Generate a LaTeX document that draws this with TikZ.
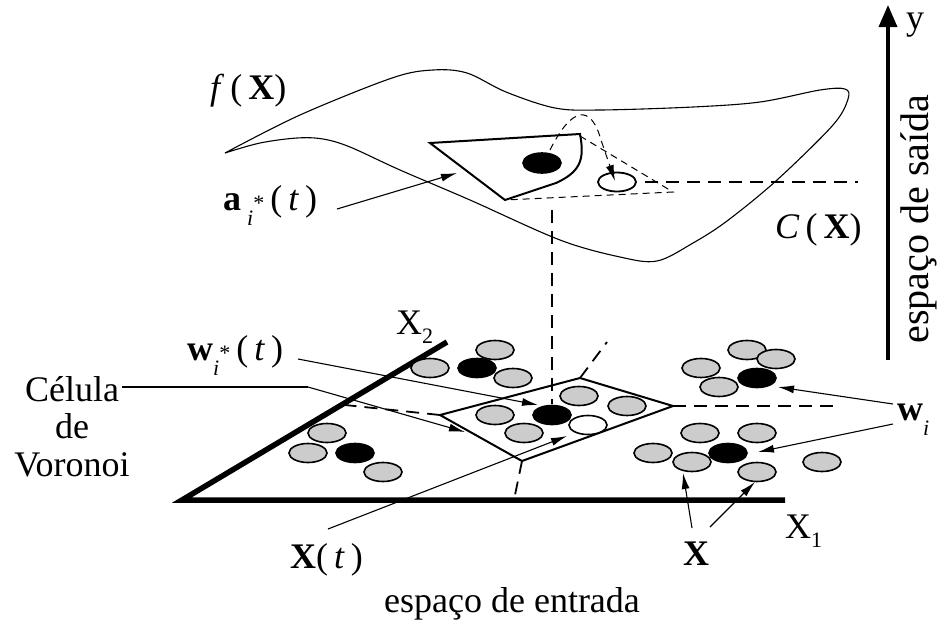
\documentclass[tikz,border=0pt]{standalone}
\usepackage{fontspec}
\setmainfont{Liberation Serif}
\usetikzlibrary{arrows.meta,shapes.geometric}
\newcommand\smtxt[1]{{\fontsize{22}{22}\selectfont #1}}
\begin{document}
\begin{tikzpicture}[x=1pt,y=-1pt,
  dotbase/.style={ellipse, draw, line width=1.6pt, minimum width=38pt, minimum height=19pt, inner sep=0pt},
  gdot/.style={dotbase, fill=black!20},
  bdot/.style={dotbase, fill=black},
  wdot/.style={dotbase, fill=white},
  lbl/.style={font=\fontsize{36}{38}\selectfont, inner sep=0pt},
  ar/.style={line width=1.1pt, -{Latex[length=16pt,width=8pt]}},
  sdash/.style={line width=1pt, dash pattern=on 7pt off 5pt},
  pdash/.style={line width=1.8pt, dash pattern=on 13pt off 8pt},
  axisline/.style={line width=5.5pt, line join=miter},
  cellline/.style={line width=2pt, line join=miter}]
\useasboundingbox (0,0) rectangle (946,625);

% ---- output surface ----
\draw[line width=1.1pt] plot[smooth, tension=0.55] coordinates {
 (225,153) (300,115) (392,78) (433,70) (467,73) (506,92) (555,108) (600,110)
 (693,107) (760,102) (820,90) (845,89) (848,99) (833,125) (777,180) (727,221)
 (693,243) (657,261) (620,257) (560,240) (470,200) (400,170) (350,147)
 (323,139) (297,138) (260,143) (225,153)};

% image of the cell on the surface
\draw[line width=2pt, line join=miter] (430,143) -- (580,134)
  .. controls (585,160) and (580,172) .. (556,183) -- (505,200) -- cycle;

\coordinate (pA) at (550,150);
\coordinate (pB) at (615,181);
\coordinate (tri) at (673,192);
\coordinate (polyTR) at (580,136);
\coordinate (polyB) at (505,200);
\draw[sdash, -{Latex[length=16pt,width=8pt]}] (pA) .. controls (572,106) and (591,104) .. (601,140) -- (pB);
\draw[sdash] (polyTR) -- (tri) -- (polyB);

\node[bdot, minimum width=38pt, minimum height=20pt] (aF) at (542,163) {};
\node[wdot, fill=none, line width=1.8pt] (aO) at (617,182) {};

\coordinate (hL) at (645,182);
\coordinate (hR) at (858,182);
\draw[pdash] (hL) -- (hR);
\coordinate (vT) at (552,210);
\coordinate (vB) at (552,404);
\draw[pdash] (vT) -- (vB);

% ---- input plane ----
\coordinate (x2end) at (447,342);
\coordinate (orig) at (182,500);
\coordinate (x1end) at (785,500);
\draw[axisline] (x2end) -- (orig) -- (x1end);

\coordinate (cL) at (440,415);
\coordinate (cT) at (580,378);
\coordinate (cR) at (673,406);
\coordinate (cB) at (522,461);
\coordinate (dL) at (345,405);
\coordinate (dT) at (607,342);
\coordinate (dR) at (840,406);
\coordinate (dB) at (515,495);
\draw[pdash] (cL) -- (dL);
\draw[pdash] (cT) -- (dT);
\draw[pdash] (cR) -- (dR);
\draw[pdash] (cB) -- (dB);
\draw[cellline] (cL) -- (cT) -- (cR) -- (cB) -- cycle;

% groups of prototypes
\node[gdot] (g1) at (495,350) {};
\node[gdot] (g2) at (430,368) {};
\node[bdot] (b1) at (477,368) {};
\node[gdot] (g3) at (513,378) {};

\node[gdot] (g4) at (327,433) {};
\node[gdot] (g5) at (308,453) {};
\node[bdot] (b2) at (355,453) {};
\node[gdot] (g6) at (383,472) {};

\node[gdot] (g7) at (495,415) {};
\node[bdot] (bw) at (552,415) {};
\node[gdot] (g8) at (579,396) {};
\node[gdot] (g9) at (627,406) {};
\node[gdot] (g10) at (524,433) {};
\node[wdot] (xt) at (588,425) {};

\node[gdot] (g11) at (747,350) {};
\node[gdot] (g12) at (776,359) {};
\node[gdot] (g13) at (701,368) {};
\node[bdot] (b3) at (757,378) {};
\node[gdot] (g14) at (719,387) {};

\node[gdot] (g15) at (700,433) {};
\node[gdot] (g16) at (757,433) {};
\node[gdot] (g17) at (653,453) {};
\node[bdot] (b4) at (728,453) {};
\node[gdot] (g18) at (692,462) {};
\node[gdot] (g19) at (757,472) {};
\node[gdot] (g20) at (822,462) {};

% ---- output axis ----
\coordinate (yB) at (888,360);
\coordinate (yT) at (888,5);
\draw[line width=3.5pt, -{Triangle[length=22pt,width=18pt]}] (yB) -- (yT);

% ---- labels ----
\node[lbl, anchor=base west] (fX) at (210,99) {\textit{f}\,(\,\textbf{X})};
\node[lbl, anchor=base west] (ai) at (223,210) {\textbf{a}\,\raisebox{-15pt}{\smtxt{\textit{i}}}\smtxt{*}\,(\,\textit{t}\,)};
\node[lbl, anchor=base west] (CX) at (775,238) {\textit{C}\,(\,\textbf{X})};
\node[lbl, anchor=base west] (X2) at (396,334) {X\raisebox{-9pt}{\smtxt{2}}};
\node[lbl, anchor=base west] (X1) at (785,538) {X\raisebox{-9pt}{\smtxt{1}}};
\node[lbl, anchor=base west] (wst) at (187,360) {\textbf{w}\raisebox{-15pt}{\smtxt{\textit{i}}}\smtxt{*}\,(\,\textit{t}\,)};
\node[lbl, anchor=base] (cel1) at (72,401) {Célula};
\node[lbl, anchor=base] (cel2) at (72,438) {de};
\node[lbl, anchor=base] (cel3) at (72,476) {Voronoi};
\node[lbl, anchor=base west] (Xt) at (290,568) {\textbf{X}(\,\textit{t}\,)};
\node[lbl, anchor=base west] (Xs) at (683,565) {\textbf{X}};
\node[lbl, anchor=base] (ent) at (512,612) {espaço de entrada};
\node[lbl, anchor=base west] (wi) at (897,420) {\textbf{w}\raisebox{-15pt}{\smtxt{\textit{i}}}};
\node[lbl, anchor=base west, text height=17pt, text depth=8pt] (ylab) at (906,29) {y};
\node[lbl, rotate=90, font=\fontsize{40}{42}\selectfont] (sai) at (919,219) {espaço de saída};

% ---- pointer arrows ----
\coordinate (celA) at (122,387);
\coordinate (celK) at (308,387);
\coordinate (celT) at (465,432);
\draw[line width=1.1pt] (celA) -- (celK);
\draw[ar] (celK) -- (celT);
\coordinate (wsA) at (298,359);
\coordinate (wsT) at (538,405);
\draw[ar] (wsA) -- (wsT);
\coordinate (xtA) at (328,529);
\coordinate (xtT) at (567,436);
\draw[ar] (xtA) -- (xtT);
\coordinate (aiA) at (337,209);
\coordinate (aiT) at (457,173);
\draw[ar] (aiA) -- (aiT);
\coordinate (wiA1) at (893,404);
\coordinate (wiT1) at (778,387);
\draw[ar] (wiA1) -- (wiT1);
\coordinate (wiA2) at (893,424);
\coordinate (wiT2) at (758,452);
\draw[ar] (wiA2) -- (wiT2);
\coordinate (xA1) at (692,528);
\coordinate (xT1) at (683,473);
\draw[ar] (xA1) -- (xT1);
\coordinate (xA2) at (710,527);
\coordinate (xT2) at (755,482);
\draw[ar] (xA2) -- (xT2);
\end{tikzpicture}
\end{document}
